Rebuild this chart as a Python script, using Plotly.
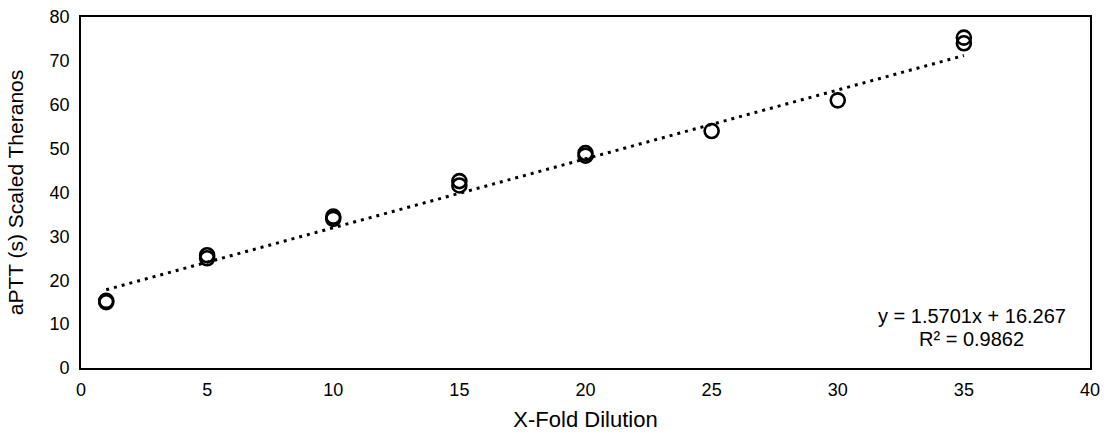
import plotly.graph_objects as go

# Data
dilution = [1, 1, 5, 5, 10, 10, 15, 15, 20, 20, 25, 30, 35, 35]
aptt = [15.0, 15.3, 25.0, 25.7, 34.0, 34.5, 41.6, 42.6, 48.4, 49.0, 54.0, 61.0, 74.0, 75.3]

slope = 1.5701
intercept = 16.267
r_squared = 0.9862
fit_x = [1, 35]
fit_y = [slope * v + intercept for v in fit_x]

x_ticks = [0, 5, 10, 15, 20, 25, 30, 35, 40]
y_ticks = [0, 10, 20, 30, 40, 50, 60, 70, 80]

font_family = "Liberation Sans, Arial, sans-serif"

fig = go.Figure()
fig.add_trace(go.Scatter(
    x=fit_x, y=fit_y, mode="lines",
    line=dict(color="black", width=3, dash="3px,5px"),
    showlegend=False, hoverinfo="skip",
))
fig.add_trace(go.Scatter(
    x=dilution, y=aptt, mode="markers",
    marker=dict(symbol="circle-open", size=14, color="black", line=dict(width=2.6, color="black")),
    showlegend=False,
))

fig.add_annotation(
    x=0.883, y=0.148, xref="paper", yref="paper",
    xanchor="center", yanchor="middle",
    text=f"y = {slope}x + {intercept}",
    showarrow=False,
    font=dict(family=font_family, size=20, color="black"),
)
fig.add_annotation(
    x=0.883, y=0.084, xref="paper", yref="paper",
    xanchor="center", yanchor="middle",
    text=f"R\u00b2 = {r_squared}",
    showarrow=False,
    font=dict(family=font_family, size=20, color="black"),
)

fig.update_layout(
    width=1105, height=435,
    margin=dict(l=81, r=15, t=17, b=67),
    paper_bgcolor="white", plot_bgcolor="white",
    font=dict(family=font_family, size=18, color="black"),
)
fig.update_xaxes(
    range=[0, 40], tickvals=x_ticks, showgrid=False, zeroline=False,
    showline=True, linecolor="black", linewidth=1.6, mirror=True,
    ticks="", ticklabelstandoff=5, automargin=False,
    title=dict(text="X-Fold Dilution", font=dict(size=22), standoff=12),
    tickfont=dict(size=18),
)
fig.update_yaxes(
    range=[0, 80], tickvals=y_ticks, showgrid=False, zeroline=False,
    showline=True, linecolor="black", linewidth=1.6, mirror=True,
    ticks="", ticklabelstandoff=6, automargin=False,
    title=dict(text="aPTT (s) Scaled Theranos", font=dict(size=21), standoff=20),
    tickfont=dict(size=18),
)

fig.write_html("out.html", config={"displayModeBar": False},
               post_script="document.body.style.margin='0';")
